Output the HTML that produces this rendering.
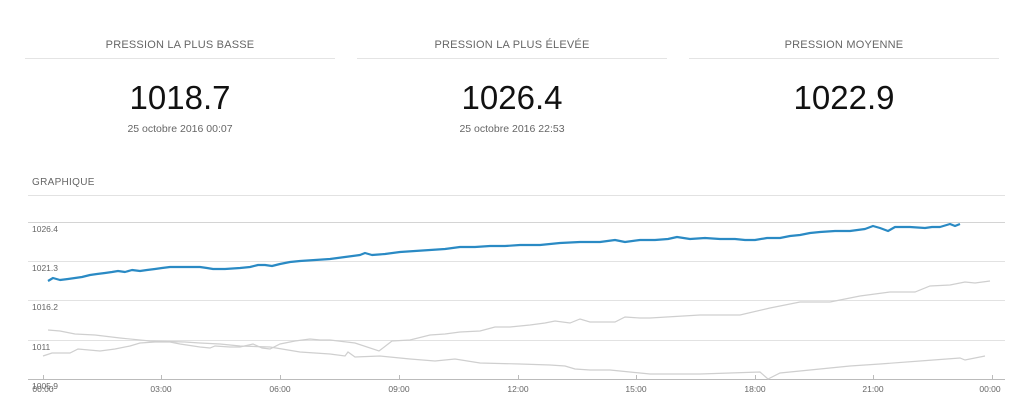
<!DOCTYPE html>
<html><head><meta charset="utf-8"><style>
body{margin:0;width:1024px;height:408px;background:#fff;font-family:"Liberation Sans",sans-serif;overflow:hidden;position:relative}
.col{position:absolute;top:0;width:310px;text-align:center}
.t{position:absolute;top:39px;left:0;width:100%;font-size:11px;color:#666;letter-spacing:0.2px}
.hr{position:absolute;top:58px;left:0;width:100%;height:1px;background:#e4e4e4}
.n{position:absolute;top:79px;left:0;width:100%;font-size:33px;color:#111}
.d{position:absolute;top:123px;left:0;width:100%;font-size:10.5px;color:#666}
</style></head><body>
<div class="col" style="left:25px"><div class="t">PRESSION LA PLUS BASSE</div><div class="hr"></div><div class="n">1018.7</div><div class="d">25 octobre 2016 00:07</div></div>
<div class="col" style="left:357px"><div class="t">PRESSION LA PLUS ÉLEVÉE</div><div class="hr"></div><div class="n">1026.4</div><div class="d">25 octobre 2016 22:53</div></div>
<div class="col" style="left:689px"><div class="t">PRESSION MOYENNE</div><div class="hr"></div><div class="n">1022.9</div></div>
<div style="position:absolute;left:32px;top:177px;font-size:10px;color:#666;letter-spacing:0.3px">GRAPHIQUE</div>
<svg width="1024" height="408" style="position:absolute;left:0;top:0" font-family="Liberation Sans, sans-serif" font-size="8.5" fill="#666">
<g stroke="#e2e2e2" stroke-width="1">
<line x1="28" y1="195.5" x2="1005" y2="195.5"/>
<line x1="28" y1="222.5" x2="1005" y2="222.5" stroke="#d4d4d4"/>
<line x1="28" y1="261.5" x2="1005" y2="261.5"/>
<line x1="28" y1="300.5" x2="1005" y2="300.5"/>
<line x1="28" y1="340.5" x2="1005" y2="340.5"/>
</g>
<line x1="28" y1="379.5" x2="1005" y2="379.5" stroke="#bbb"/>
<g stroke="#bbb"><line x1="43.5" y1="375" x2="43.5" y2="380"/><line x1="161.5" y1="375" x2="161.5" y2="380"/><line x1="280.5" y1="375" x2="280.5" y2="380"/><line x1="399.5" y1="375" x2="399.5" y2="380"/><line x1="518.5" y1="375" x2="518.5" y2="380"/><line x1="636.5" y1="375" x2="636.5" y2="380"/><line x1="755.5" y1="375" x2="755.5" y2="380"/><line x1="873.5" y1="375" x2="873.5" y2="380"/><line x1="992.5" y1="375" x2="992.5" y2="380"/></g>
<text x="32" y="232">1026.4</text><text x="32" y="271">1021.3</text><text x="32" y="310">1016.2</text><text x="32" y="350">1011</text><text x="32" y="389">1005.9</text>
<g text-anchor="middle"><text x="43" y="392">00:00</text><text x="161" y="392">03:00</text><text x="280" y="392">06:00</text><text x="399" y="392">09:00</text><text x="518" y="392">12:00</text><text x="636" y="392">15:00</text><text x="755" y="392">18:00</text><text x="873" y="392">21:00</text><text x="990" y="392">00:00</text></g>
<polyline fill="none" stroke="#cfcfcf" stroke-width="1.2" points="48,330 60,331 75,334 95,335 120,338 150,341 185,342 200,343 220,344 240,346 270,347 300,352 330,354 345,356 348,352 355,357 380,356 400,358 410,359 435,361 455,359 480,363 520,364 550,365 565,366 575,369 590,370 610,370 620,371 640,373 650,374 700,374 730,373 760,372 768,379 780,373 810,370 850,366 880,364 920,361 960,358 965,360 985,356"/>
<polyline fill="none" stroke="#cfcfcf" stroke-width="1.2" points="43,356 52,353 70,353 78,349 100,351 115,349 130,346 140,343 155,342 170,342 180,344 200,347 210,348 215,346 230,347 240,347 253,344 262,348 270,349 280,344 295,341 310,339 320,340 330,340 355,343 379,351 392,341 410,340 430,335 445,334 460,332 480,331 495,327 510,327 530,325 545,323 555,321 570,323 580,319 590,322 615,322 625,317 640,318 650,318 700,315 740,315 770,308 800,302 830,302 860,296 890,292 915,292 930,286 950,285 965,282 975,283 990,281"/>
<polyline fill="none" stroke="#2a8ac4" stroke-width="2.2" stroke-linejoin="round" points="48,281 53,278 60,280 68,279 75,278 82,277 90,275 97,274 105,273 112,272 118,271 125,272 132,270 140,271 147,270 155,269 162,268 170,267 178,267 190,267 200,267 207,268 213,269 225,269 240,268 250,267 258,265 265,265 272,266 280,264 290,262 300,261 315,260 330,259 345,257 360,255 365,253 372,255 385,254 400,252 415,251 430,250 445,249 460,247 475,247 490,246 505,246 520,245 540,245 560,243 580,242 600,242 615,240 625,242 640,240 655,240 668,239 677,237 690,239 705,238 720,239 735,239 745,240 755,240 767,238 780,238 790,236 800,235 810,233 820,232 835,231 850,231 865,229 873,226 880,228 888,231 895,227 910,227 925,228 932,227 940,227 950,224 955,226 960,224"/>
</svg>
</body></html>
